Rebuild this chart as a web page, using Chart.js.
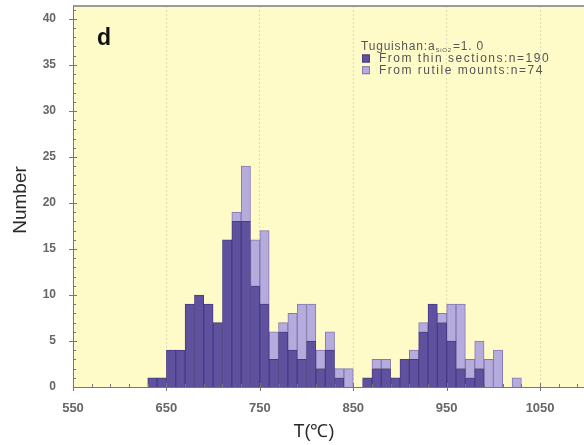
<!DOCTYPE html>
<html>
<head>
<meta charset="utf-8">
<script src="https://cdn.jsdelivr.net/npm/chart.js@4/dist/chart.umd.min.js"></script>
<style>
  html, body { margin: 0; padding: 0; background: #fff; }
  #contenedor { width: 584px; height: 445px; }
</style>
</head>
<body>
<div id="contenedor"><canvas id="grafico"></canvas></div>
<script>
// centros de cada clase de 10 °C
const centrosClase = [635, 645, 655, 665, 675, 685, 695, 705, 715, 725, 735, 745, 755, 765, 775, 785, 795, 805, 815, 825,
  835, 845, 855, 865, 875, 885, 895, 905, 915, 925, 935, 945, 955, 965, 975, 985, 995, 1005, 1015, 1025];
const cuentasLaminas = [1, 1, 4, 4, 9, 10, 9, 7, 16, 18, 18, 11, 9, 3, 6, 4, 3, 5, 2, 4,
  1, 0, 0, 1, 2, 2, 1, 3, 3, 6, 9, 7, 5, 2, 1, 2, 0, 0, 0, 0];
const cuentasMontajes = [0, 0, 0, 0, 0, 0, 0, 0, 0, 1, 6, 5, 8, 3, 1, 4, 6, 4, 2, 2,
  1, 2, 0, 0, 1, 1, 0, 0, 1, 1, 0, 1, 4, 7, 2, 3, 3, 4, 0, 1];
const ticksX = [550, 650, 750, 850, 950, 1050];
const ticksY = [0, 5, 10, 15, 20, 25, 30, 35, 40];
const etiquetasSerie = ["From thin sections:n=190", "From rutile mounts:n=74"];

const fuente = "Arial, 'Liberation Sans', sans-serif";
const colorOscuro = "#5f519e";
const colorClaro = "#b5abdd";

function aPuntos(valores) {
  return valores.map((v, i) => ({ x: centrosClase[i], y: v || null }));
}

const decoracion = {
  id: "decoracion",
  beforeDraw(chart) {
    const { ctx, chartArea: a } = chart;
    ctx.save();
    ctx.fillStyle = "#fffbc9";
    ctx.fillRect(a.left, a.top, a.right - a.left, a.bottom - a.top);
    ctx.restore();
  },
  afterDraw(chart) {
    const { ctx, chartArea: a, scales } = chart;
    const ex = scales.x, ey = scales.y;
    ctx.save();
    // marco superior
    ctx.strokeStyle = "#9a9a9a";
    ctx.lineWidth = 2;
    ctx.beginPath();
    ctx.moveTo(a.left, a.top);
    ctx.lineTo(a.right, a.top);
    ctx.stroke();

    // eje izquierdo y eje inferior continuos
    ctx.strokeStyle = "#777";
    ctx.lineWidth = 1;
    ctx.beginPath();
    ctx.moveTo(a.left + 0.5, a.top);
    ctx.lineTo(a.left + 0.5, a.bottom);
    ctx.moveTo(a.left, Math.round(a.bottom) + 0.5);
    ctx.lineTo(a.right, Math.round(a.bottom) + 0.5);
    ctx.stroke();

    // marcas menores y mayores
    ctx.beginPath();
    for (let v = 1; v <= 41; v++) {
      const y = Math.round(ey.getPixelForValue(v)) + 0.5;
      const largo = v % 5 === 0 ? 4 : 3;
      ctx.moveTo(a.left - (v % 5 === 0 ? 4 : 0), y);
      ctx.lineTo(a.left + largo, y);
    }
    for (let v = 570; v < 1100; v += 20) {
      const x = Math.round(ex.getPixelForValue(v)) + 0.5;
      ctx.moveTo(x, a.bottom);
      ctx.lineTo(x, a.bottom - 3);
    }
    ticksX.forEach((v) => {
      const x = Math.round(ex.getPixelForValue(v)) + 0.5;
      ctx.moveTo(x, a.bottom - 4);
      ctx.lineTo(x, a.bottom + 4);
    });
    ctx.stroke();

    // letra del panel
    ctx.fillStyle = "#111";
    ctx.font = `bold 23px ${fuente}`;
    ctx.textBaseline = "alphabetic";
    ctx.fillText("d", 97, 45);

    // leyenda
    ctx.fillStyle = "#555";
    ctx.font = `12px ${fuente}`;
    ctx.letterSpacing = "0.8px";
    let x = 361;
    ctx.fillText("Tuguishan:a", x, 50);
    x += ctx.measureText("Tuguishan:a").width;
    ctx.font = `6px ${fuente}`;
    ctx.fillText("SiO2", x, 52);
    x += ctx.measureText("SiO2").width + 1;
    ctx.font = `12px ${fuente}`;
    ctx.fillText("=1. 0", x, 50);

    ctx.font = `12px ${fuente}`;
    ctx.letterSpacing = "1.5px";
    chart.data.datasets.forEach((ds, i) => {
      const yc = 58.5 + i * 11.7;
      ctx.fillStyle = ds.backgroundColor;
      ctx.fillRect(362, yc - 4, 8, 8);
      ctx.strokeStyle = ds.borderColor;
      ctx.strokeRect(362.5, yc - 3.5, 7, 7);
      ctx.fillStyle = "#555";
      ctx.textBaseline = "middle";
      ctx.fillText(ds.label, 379, yc);
    });
    ctx.letterSpacing = "0px";

    // títulos de ejes
    ctx.fillStyle = "#2a2a2a";
    ctx.textAlign = "center";
    ctx.textBaseline = "middle";
    ctx.font = `18px ${fuente}`;
    ctx.fillText("T(℃)", 314, 432);
    ctx.translate(21, 200);
    ctx.rotate(-Math.PI / 2);
    ctx.font = `19px ${fuente}`;
    ctx.fillText("Number", 0, 0);
    ctx.restore();
  },
};

new Chart(document.querySelector("#grafico"), {
  type: "bar",
  data: {
    datasets: [
      { label: etiquetasSerie[0], data: aPuntos(cuentasLaminas), backgroundColor: colorOscuro, borderColor: "#473b84", borderWidth: 1 },
      { label: etiquetasSerie[1], data: aPuntos(cuentasMontajes), backgroundColor: colorClaro, borderColor: "#8479b2", borderWidth: 1 },
    ],
  },
  options: {
    responsive: true,
    maintainAspectRatio: false,
    animation: false,
    barPercentage: 1,
    categoryPercentage: 1,
    layout: { padding: { top: 6, left: 0, right: 0, bottom: 0 } },
    plugins: { legend: { display: false }, tooltip: { enabled: false } },
    scales: {
      x: {
        type: "linear",
        stacked: true,
        offset: false,
        min: 550,
        max: 1097,
        afterBuildTicks: (escala) => { escala.ticks = ticksX.map((v) => ({ value: v })); },
        afterFit: (escala) => { escala.height = 58; escala.paddingLeft = 0; escala.paddingRight = 0; },
        ticks: { font: { family: fuente, size: 13, weight: "bold" }, color: "#666", padding: 14, maxRotation: 0, autoSkip: false, callback: (v) => String(v) },
        grid: { offset: false, color: "rgba(170,170,150,0.4)", drawTicks: false },
        border: { display: false, dash: [2, 2] },
      },
      y: {
        stacked: true,
        min: 0,
        max: 41.4,
        afterBuildTicks: (escala) => { escala.ticks = ticksY.map((v) => ({ value: v })); },
        afterFit: (escala) => { escala.width = 73; escala.paddingTop = 0; escala.paddingBottom = 0; },
        ticks: { font: { family: fuente, size: 12, weight: "bold" }, color: "#666", padding: 17 },
        grid: { display: false, drawTicks: false },
        border: { display: false },
      },
    },
  },
  plugins: [decoracion],
});
</script>
</body>
</html>
